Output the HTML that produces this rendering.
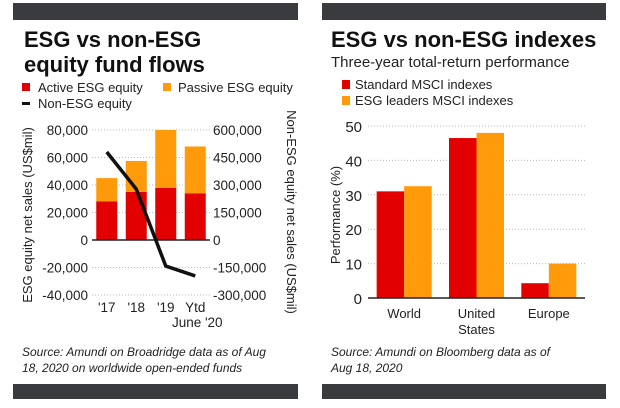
<!DOCTYPE html>
<html><head><meta charset="utf-8"><style>
html,body{margin:0;padding:0;background:#fff;}
svg{display:block;font-family:"Liberation Sans",sans-serif;}
</style></head><body>
<svg id="chart" width="620" height="408" viewBox="0 0 620 408" xmlns="http://www.w3.org/2000/svg">
<rect x="13" y="3" width="285" height="17" fill="#3a3b3e"/>
<rect x="322" y="3" width="284" height="17" fill="#3a3b3e"/>
<rect x="13" y="384" width="285" height="15" fill="#3a3b3e"/>
<rect x="322" y="384" width="284" height="15" fill="#3a3b3e"/>

<text x="24" y="47" font-size="22" font-weight="bold" fill="#111">ESG vs non-ESG</text>
<text x="24" y="72" font-size="22" font-weight="bold" fill="#111">equity fund flows</text>
<g font-size="13" fill="#222">
<rect x="22" y="83" width="8" height="8" fill="#e20000"/>
<text x="38" y="92">Active ESG equity</text>
<rect x="163" y="83" width="8" height="8" fill="#ff9a0a"/>
<text x="178" y="92">Passive ESG equity</text>
<rect x="22" y="102" width="8" height="3" fill="#111"/>
<text x="38" y="108">Non-ESG equity</text>
</g>

<text x="331" y="47" font-size="22" font-weight="bold" fill="#111">ESG vs non-ESG indexes</text>
<text x="331" y="67" font-size="15" fill="#222">Three-year total-return performance</text>
<g font-size="13" fill="#222">
<rect x="342" y="80" width="8" height="9" fill="#e20000"/>
<text x="355" y="89">Standard MSCI indexes</text>
<rect x="342" y="96" width="8" height="9" fill="#ff9a0a"/>
<text x="355" y="105">ESG leaders MSCI indexes</text>
</g>

<g id="left"></g>
<g id="right"></g>

<text font-size="12" font-style="italic" fill="#222"><tspan x="22" y="356">Source: Amundi on Broadridge data as of Aug</tspan><tspan x="22" y="372">18, 2020 on worldwide open-ended funds</tspan></text>
<text font-size="12" font-style="italic" fill="#222"><tspan x="331" y="356">Source: Amundi on Bloomberg data as of</tspan><tspan x="331" y="372">Aug 18, 2020</tspan></text>
</svg>
<script>
const flowCats = ["'17","'18","'19","Ytd"];
const activeEsg = [28000,35000,38000,34000];
const totalEsg = [45000,57500,80000,68000];
const nonEsg = [480000,278000,-142000,-196000];
const leftTicks = [80000,60000,40000,20000,0,-20000,-40000];
const rightTicks = [600000,450000,300000,150000,0,-150000,-300000];

const perfCats = ["World","United States","Europe"];
const standardMsci = [31,46.5,4.3];
const leadersMsci = [32.5,48,10];
const perfTicks = [0,10,20,30,40,50];

const NS="http://www.w3.org/2000/svg";
function mk(tag,attrs,parent,txt){const e=document.createElementNS(NS,tag);for(const k in attrs)e.setAttribute(k,attrs[k]);if(txt!==undefined)e.textContent=txt;parent.appendChild(e);return e;}

const L=document.getElementById('left');
const y0=240, pxPer=27.5/20000;
function yL(v){return y0 - v*pxPer;}
function yR(v){return yL(v/7.5);}
const xL0=92, xL1=210, band=(xL1-xL0)/4;
function xc(i){return xL0+band*(i+0.5);}
leftTicks.forEach((t,i)=>{
  const g=mk('line',{x1:xL0,x2:xL1,y1:yL(t),y2:yL(t),stroke:'#bbb','stroke-dasharray':'1,2'},L);
  
  
  const tx=mk('text',{x:88,y:yL(t)+5,'font-size':13.5,'text-anchor':'end',fill:'#222'},L,t.toLocaleString('en-US'));
  
  
});
rightTicks.forEach(t=>{
  const tx=mk('text',{x:213,y:yR(t)+5,'font-size':13.5,fill:'#222'},L,t.toLocaleString('en-US'));
  
  
});
flowCats.forEach((c,i)=>{
  const w=21,x=xc(i)-w/2;
  const r=mk('rect',{x:x,y:yL(activeEsg[i]),width:w,height:yL(0)-yL(activeEsg[i]),fill:'#e20000'},L);
  
  
  const p=mk('rect',{x:x,y:yL(totalEsg[i]),width:w,height:yL(activeEsg[i])-yL(totalEsg[i]),fill:'#ff9a0a'},L);
  
  
  const t=mk('text',{x:xc(i),y:312,'font-size':13.5,'text-anchor':'middle',fill:'#222'},L,c);
  
  
});
const jl=mk('text',{x:xc(3)+2,y:327,'font-size':13.5,'text-anchor':'middle',fill:'#222'},L,"June '20");


const zl=mk('line',{x1:xL0,x2:xL1,y1:y0,y2:y0,stroke:'#222','stroke-width':1.5},L);


const ln=mk('polyline',{points:nonEsg.map((v,i)=>xc(i)+','+yR(v)).join(' '),fill:'none',stroke:'#111','stroke-width':3.5,'stroke-linejoin':'round'},L);


const lt=mk('text',{x:0,y:0,'font-size':13,fill:'#222','text-anchor':'middle',transform:'translate(32,215) rotate(-90)'},L,'ESG equity net sales (US$mil)');


const rt=mk('text',{x:0,y:0,'font-size':13,fill:'#222','text-anchor':'middle',transform:'translate(287,212) rotate(90)'},L,'Non-ESG equity net sales (US$mil)');



const R=document.getElementById('right');
const p0=298, pp=34.4/10;
function yP(v){return p0-v*pp;}
const xR0=368,xR1=585, bandR=(xR1-xR0)/3;
perfTicks.forEach(t=>{
  if(t>0){const g=mk('line',{x1:xR0,x2:xR1,y1:yP(t),y2:yP(t),stroke:'#bbb','stroke-dasharray':'1,2'},R);
  
  }
  const tx=mk('text',{x:362,y:yP(t)+6,'font-size':15,'text-anchor':'end',fill:'#222'},R,t);
  
  
});
perfCats.forEach((c,i)=>{
  const cx=xR0+bandR*(i+0.5), w=27.5;
  const a=mk('rect',{x:cx-w,y:yP(standardMsci[i]),width:w,height:p0-yP(standardMsci[i]),fill:'#e20000'},R);
  
  
  const b=mk('rect',{x:cx,y:yP(leadersMsci[i]),width:w,height:p0-yP(leadersMsci[i]),fill:'#ff9a0a'},R);
  
  
  const parts=c==='United States'?['United','States']:[c];
  parts.forEach((s,k)=>{
    const t=mk('text',{x:cx,y:318+k*16,'font-size':13,'text-anchor':'middle',fill:'#222'},R,s);
    
    
  });
});
const zr=mk('line',{x1:xR0,x2:xR1,y1:p0,y2:p0,stroke:'#222','stroke-width':1.5},R);


const pt=mk('text',{x:0,y:0,'font-size':13,fill:'#222','text-anchor':'middle',transform:'translate(340,215) rotate(-90)'},R,'Performance (%)');


</script>
</body></html>
